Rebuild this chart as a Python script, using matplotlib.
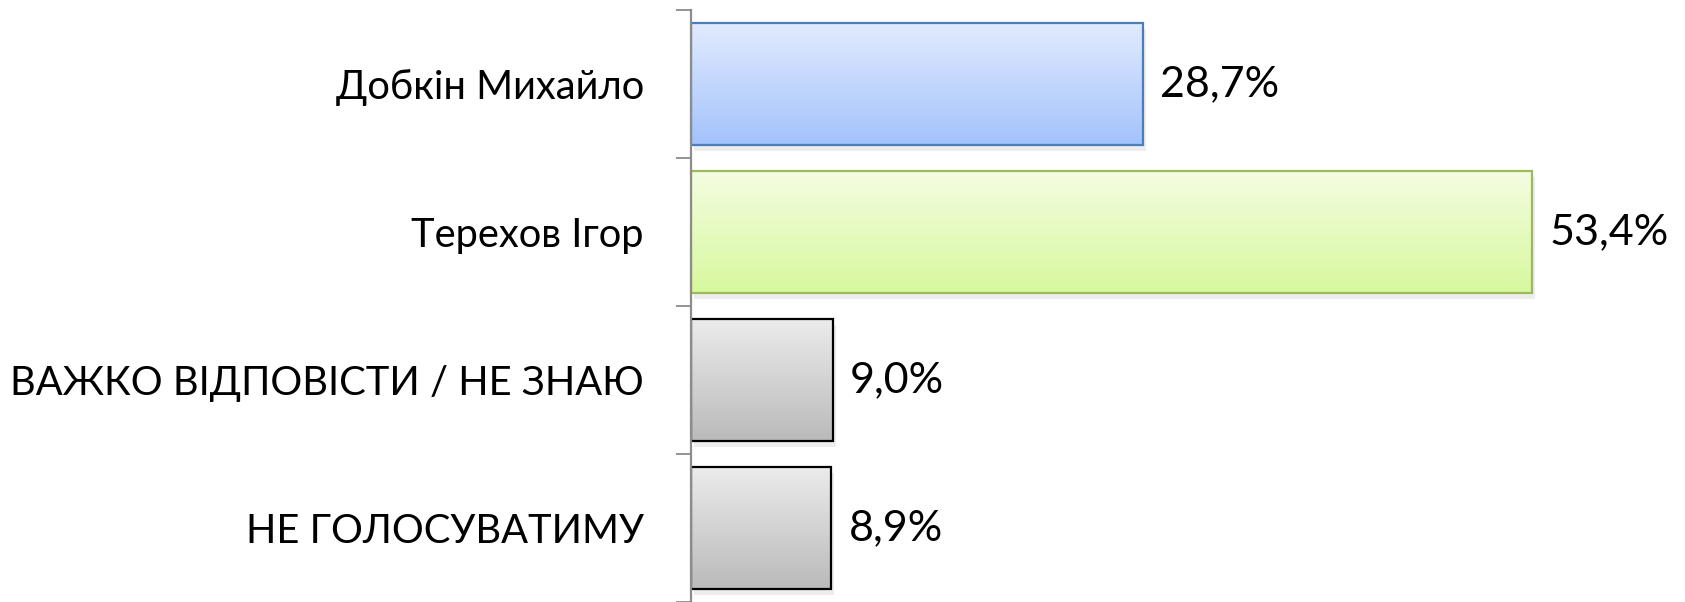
import numpy as np
import matplotlib
matplotlib.use("Agg")
import matplotlib.pyplot as plt
from matplotlib.colors import LinearSegmentedColormap

plt.rcParams['font.family'] = ['Lato', 'DejaVu Sans']

categories = ["Добкін Михайло", "Терехов Ігор", "ВАЖКО ВІДПОВІСТИ / НЕ ЗНАЮ", "НЕ ГОЛОСУВАТИМУ"]
values = [28.7, 53.4, 9.0, 8.9]
labels = ["28,7%", "53,4%", "9,0%", "8,9%"]

# (top colour, bottom colour, edge colour)
styles = [
    ("#e2ebfe", "#a3c3fc", "#4a7ebb"),
    ("#f4fde2", "#d7f89e", "#9bbb59"),
    ("#ececec", "#bababa", "#000000"),
    ("#ececec", "#bababa", "#000000"),
]

fig = plt.figure(figsize=(16.85, 6.02), dpi=100)
ax = fig.add_axes([691 / 1685, 0, 1 - 691 / 1685, 592 / 602])

bar_h = 0.83
ypos = np.arange(len(values))
bars = ax.barh(ypos, values, height=bar_h, facecolor="none", linewidth=1.6)

grad = np.linspace(0, 1, 256).reshape(-1, 1)
for bar, v, y, lab, (c_top, c_bot, c_edge) in zip(bars, values, ypos, labels, styles):
    bar.set_edgecolor(c_edge)
    bar.set_zorder(3)
    cmap = LinearSegmentedColormap.from_list("g", [c_top, c_bot])
    im = ax.imshow(grad, cmap=cmap, aspect="auto", origin="upper",
                   extent=[0, v, y + bar_h / 2, y - bar_h / 2], zorder=2)
    im.set_clip_path(bar)
    # soft shadow
    sh = plt.Rectangle((0.2, y - bar_h / 2 + 0.04), v, bar_h, facecolor="#000000",
                       alpha=0.07, edgecolor="none", zorder=1)
    ax.add_patch(sh)
    ax.text(v + 1.1, y, lab, va="center", ha="left", fontsize=31, color="black")

ax.set_xlim(0, 63.1)
ax.set_ylim(len(values) - 0.5, -0.5)

ax.set_yticks(ypos)
ax.set_yticklabels(categories, fontsize=28.7)
ax.tick_params(axis="y", which="major", length=0, pad=34)
ax.set_yticks(np.arange(len(values) + 1) - 0.5, minor=True)
ax.tick_params(axis="y", which="minor", length=11, width=1.3, color="#8c8c8c")
ax.set_xticks([])

for s in ["top", "right", "bottom"]:
    ax.spines[s].set_visible(False)
ax.spines["left"].set_color("#8c8c8c")
ax.spines["left"].set_linewidth(1.6)
ax.spines["left"].set_zorder(4)

fig.savefig("out.png", dpi=100)
